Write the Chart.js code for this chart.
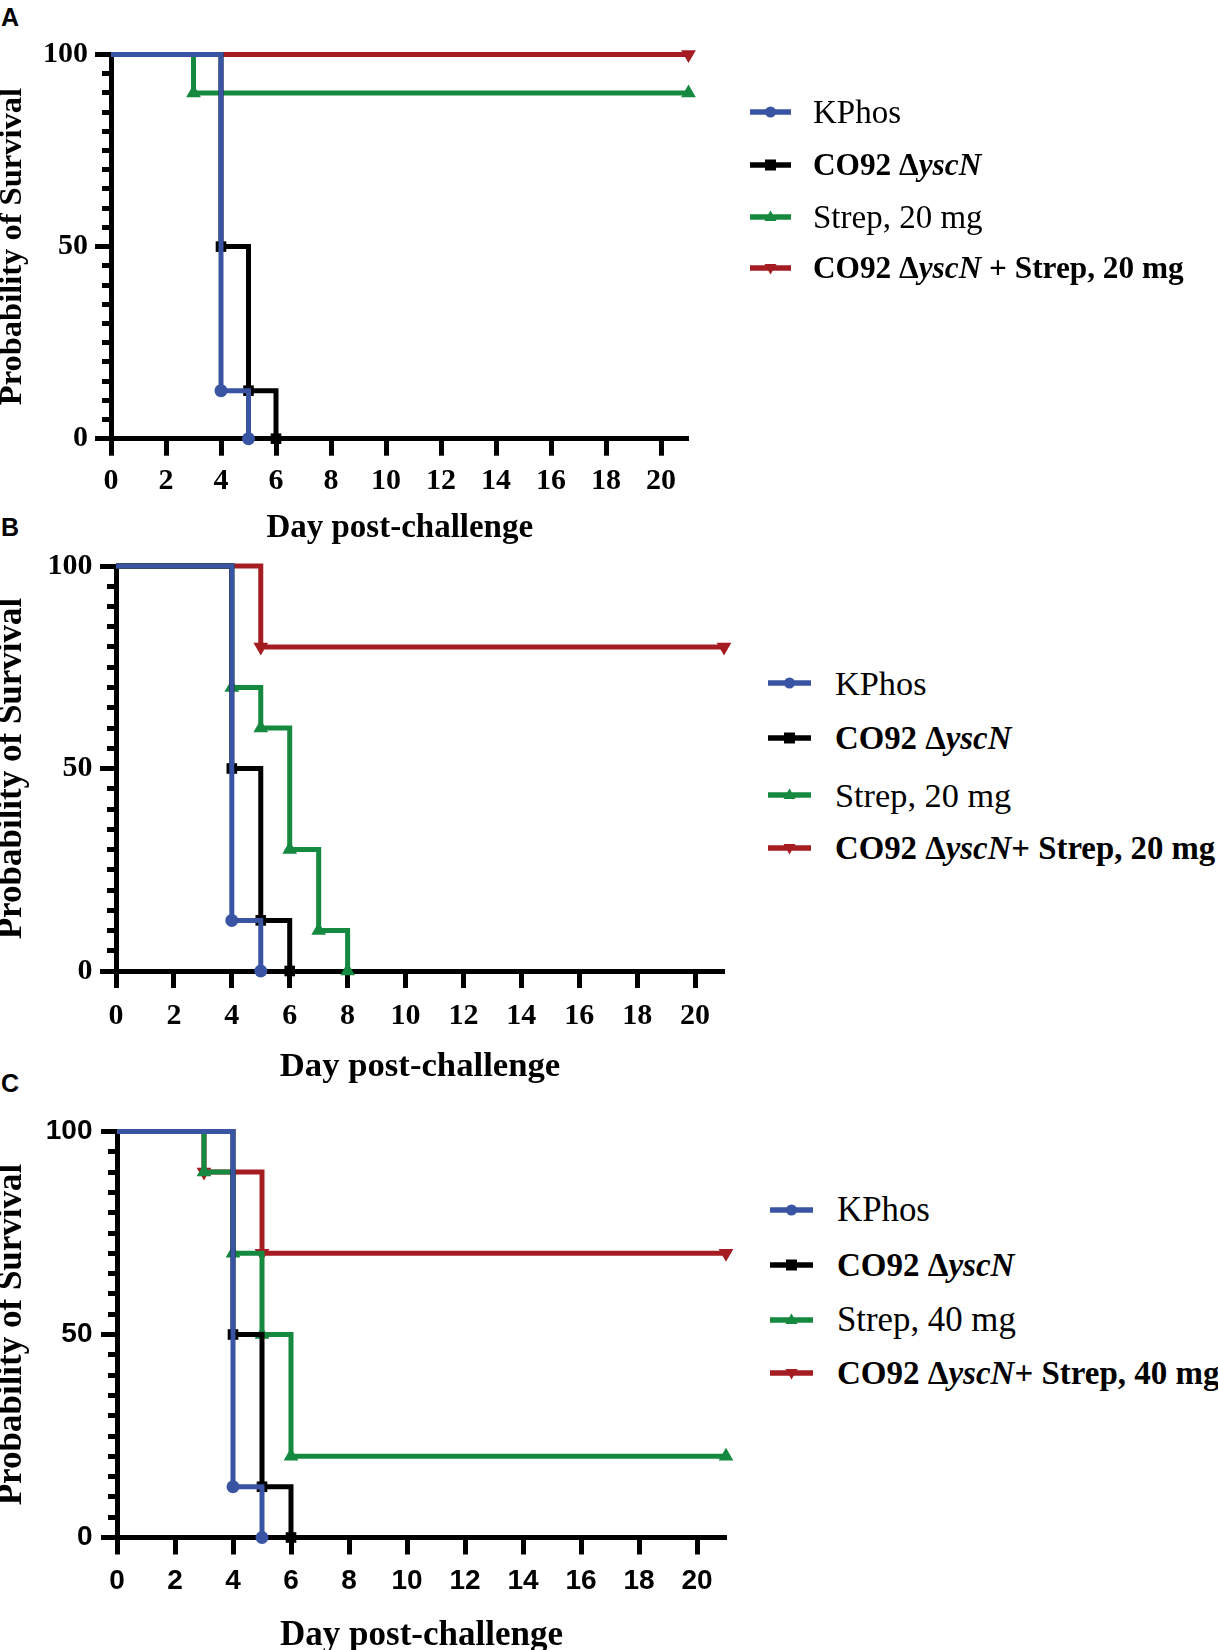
<!DOCTYPE html>
<html><head><meta charset="utf-8">
<script src="https://cdn.jsdelivr.net/npm/chart.js@4.4.1/dist/chart.umd.min.js"></script>
<style>
html,body{margin:0;padding:0;background:#fff;width:1218px;height:1650px;overflow:hidden;position:relative;}
.panel{position:absolute;left:0;width:760px;}
.letter{position:absolute;left:1px;font-family:'Liberation Sans',Arial,sans-serif;font-weight:bold;font-size:25px;line-height:25px;color:#000;}
.item{position:absolute;display:flex;align-items:center;height:40px;white-space:nowrap;font-family:'Liberation Serif','Times New Roman',serif;color:#000;}
.item svg{display:block;flex:none;}
.item span{line-height:40px;}
.b{font-weight:bold;}
</style></head><body>
<div class="letter" style="top:5px">A</div>
<div class="letter" style="top:515px">B</div>
<div class="letter" style="top:1071px">C</div>
<div class="panel" id="pA" style="top:0px;height:560px"><canvas id="cA"></canvas></div>
<div class="panel" id="pB" style="top:540px;height:560px"><canvas id="cB"></canvas></div>
<div class="panel" id="pC" style="top:1090px;height:590px"><canvas id="cC"></canvas></div>
<div id="legends"></div>
<script>
// ---------- data ----------
const seriesColors = ['#3a54a4', '#000000', '#14893f', '#a51c22'];
const seriesMarkers = ['circle', 'rect', 'triangle', 'triangle'];
const markerRotation = [0, 0, 0, 180];
const markerRadius = [6.5, 7.5, 8.5, 8.5];

const xTickValues = [0, 2, 4, 6, 8, 10, 12, 14, 16, 18, 20];
const yMajorTickValues = [0, 50, 100];
const yMinorTickValues = [0, 5, 10, 15, 20, 25, 30, 35, 40, 45, 50, 55, 60, 65, 70, 75, 80, 85, 90, 95, 100];

// Panel A
const daysA_KPhos = [0, 4, 5];            const survA_KPhos = [100, 12.5, 0];
const daysA_CO92  = [0, 4, 5, 6];         const survA_CO92  = [100, 50, 12.5, 0];
const daysA_Strep = [0, 3, 21];           const survA_Strep = [100, 90, 90];
const daysA_Combo = [0, 21];              const survA_Combo = [100, 100];
const legendA = ['KPhos', 'CO92 ΔyscN', 'Strep, 20 mg', 'CO92 ΔyscN + Strep, 20 mg'];

// Panel B
const daysB_KPhos = [0, 4, 5];            const survB_KPhos = [100, 12.5, 0];
const daysB_CO92  = [0, 4, 5, 6];         const survB_CO92  = [100, 50, 12.5, 0];
const daysB_Strep = [0, 4, 5, 6, 7, 8];   const survB_Strep = [100, 70, 60, 30, 10, 0];
const daysB_Combo = [0, 5, 21];           const survB_Combo = [100, 80, 80];
const legendB = ['KPhos', 'CO92 ΔyscN', 'Strep, 20 mg', 'CO92 ΔyscN+ Strep, 20 mg'];

// Panel C
const daysC_KPhos = [0, 4, 5];            const survC_KPhos = [100, 12.5, 0];
const daysC_CO92  = [0, 4, 5, 6];         const survC_CO92  = [100, 50, 12.5, 0];
const daysC_Strep = [0, 3, 4, 5, 6, 21];  const survC_Strep = [100, 90, 70, 50, 20, 20];
const daysC_Combo = [0, 3, 5, 21];        const survC_Combo = [100, 90, 70, 70];
const legendC = ['KPhos', 'CO92 ΔyscN', 'Strep, 40 mg', 'CO92 ΔyscN+ Strep, 40 mg'];

const xTitle = 'Day post-challenge';
const yTitle = 'Probability of Survival';

// ---------- builders ----------
function pts(days, surv) { return days.map((d, i) => ({x: d, y: surv[i]})); }

function makeDatasets(list, labels) {
  return list.map((pair, i) => ({
    label: labels[i],
    data: pts(pair[0], pair[1]),
    stepped: 'before',
    borderColor: seriesColors[i],
    backgroundColor: seriesColors[i],
    borderWidth: 5,
    borderCapStyle: 'butt',
    borderJoinStyle: 'miter',
    fill: false,
    tension: 0,
    clip: false,
    pointStyle: seriesMarkers[i],
    pointRotation: markerRotation[i],
    pointBackgroundColor: seriesColors[i],
    pointBorderColor: seriesColors[i],
    pointBorderWidth: 0,
    pointRadius: (ctx) => ctx.dataIndex === 0 ? 0 : markerRadius[i],
    pointHoverRadius: (ctx) => ctx.dataIndex === 0 ? 0 : markerRadius[i]
  }));
}

function makePanel(canvasId, g, datasets) {
  const canvasW = 760;
  const xTitleOffset = 0.6 * g.titleSize;
  const xScaleBottom = g.xTitleY + xTitleOffset;
  const xAxisHeight = xScaleBottom - g.y0;
  const padTop = g.y100 - g.top;
  const padBottom = (g.top + g.height) - xScaleBottom;
  const padRight = canvasW - g.xEnd;
  const tickFont = {family: g.tickFamily, weight: 'bold', size: g.tickSize, lineHeight: 1.2};
  const titleFont = {family: 'Liberation Serif', weight: 'bold', size: g.titleSize, lineHeight: 1.2};
  const xLabelPad = g.xLabelY - g.y0 - 17 - 0.6 * g.tickSize;
  const yLabelPad = g.x0 - 16 - g.yLabelRight;
  return new Chart(document.getElementById(canvasId), {
    type: 'line',
    data: {datasets},
    options: {
      responsive: true,
      maintainAspectRatio: false,
      animation: false,
      events: [],
      layout: {padding: {left: 0, top: padTop, right: padRight, bottom: padBottom}},
      plugins: {legend: {display: false}, tooltip: {enabled: false}, title: {display: false}},
      scales: {
        x: {
          type: 'linear', position: 'bottom', min: 0, max: 21,
          afterBuildTicks: (s) => { s.ticks = xTickValues.map(v => ({value: v})); },
          afterFit: (s) => { s.height = xAxisHeight; },
          ticks: {color: '#000', font: tickFont, padding: xLabelPad, maxRotation: 0, autoSkip: false},
          grid: {drawOnChartArea: false, drawTicks: true, tickLength: 17, tickWidth: 5, tickColor: '#000'},
          border: {display: true, color: '#000', width: 5},
          title: {display: true, text: xTitle, color: '#000', font: titleFont, padding: 0}
        },
        y: {
          type: 'linear', position: 'left', weight: 1, min: 0, max: 100,
          afterBuildTicks: (s) => { s.ticks = yMajorTickValues.map(v => ({value: v})); },
          afterFit: (s) => { s.width = g.x0; },
          ticks: {color: '#000', font: tickFont, padding: yLabelPad, autoSkip: false},
          grid: {drawOnChartArea: false, drawTicks: true, tickLength: 16, tickWidth: 5, tickColor: '#000'},
          border: {display: true, color: '#000', width: 5},
          title: {display: true, text: yTitle, color: '#000',
                  font: {family: 'Liberation Serif', weight: 'bold', size: g.yTitleSize, lineHeight: (2 * g.yTitleX) / g.yTitleSize},
                  padding: 0}
        },
        yMinor: {
          type: 'linear', position: 'left', weight: 0, min: 0, max: 100,
          afterBuildTicks: (s) => { s.ticks = yMinorTickValues.map(v => ({value: v})); },
          afterFit: (s) => { s.width = 0; },
          ticks: {display: false, autoSkip: false},
          grid: {drawOnChartArea: false, drawTicks: true, tickLength: 9, tickWidth: 5, tickColor: '#000'},
          border: {display: false}
        }
      }
    }
  });
}

function makeLegend(labels, L) {
  const host = document.getElementById('legends');
  labels.forEach((lab, i) => {
    const div = document.createElement('div');
    div.className = 'item';
    div.style.left = L.lineX0 + 'px';
    div.style.top = (L.rows[i] - 20) + 'px';
    const isBold = lab.startsWith('CO92');
    div.style.fontSize = (isBold ? L.boldSize : L.regSize) + 'px';
    const w = L.lineX1 - L.lineX0;
    const cx = w / 2, cy = 10, c = seriesColors[i];
    let mk = '';
    if (seriesMarkers[i] === 'circle') mk = `<circle cx="${cx}" cy="${cy}" r="5.5" fill="${c}"/>`;
    else if (seriesMarkers[i] === 'rect') mk = `<rect x="${cx - 5.5}" y="${cy - 5.5}" width="11" height="11" fill="${c}"/>`;
    else if (markerRotation[i] === 0) mk = `<polygon points="${cx},${cy - 6.5} ${cx + 6},${cy + 4} ${cx - 6},${cy + 4}" fill="${c}"/>`;
    else mk = `<polygon points="${cx},${cy + 6.5} ${cx + 6},${cy - 4} ${cx - 6},${cy - 4}" fill="${c}"/>`;
    const svg = `<svg width="${w}" height="20" viewBox="0 0 ${w} 20" style="margin-right:${L.textX - L.lineX1}px"><line x1="0" y1="10" x2="${w}" y2="10" stroke="${c}" stroke-width="5.5"/>${mk}</svg>`;
    const html = lab.replace('yscN', '<i>yscN</i>');
    div.innerHTML = svg + `<span${isBold ? ' class="b"' : ''}>${html}</span>`;
    host.appendChild(div);
  });
}

Chart.defaults.font.family = "'Liberation Serif', 'Times New Roman', serif";

makePanel('cA', {top: 0, height: 560, x0: 111, xEnd: 688.5, y100: 54.5, y0: 438.7,
  xTitleY: 528, yTitleX: 13, xLabelY: 481, yLabelRight: 88,
  tickFamily: 'Liberation Serif', tickSize: 30, titleSize: 33, yTitleSize: 32.5},
  makeDatasets([[daysA_KPhos, survA_KPhos], [daysA_CO92, survA_CO92], [daysA_Strep, survA_Strep], [daysA_Combo, survA_Combo]], legendA));

makePanel('cB', {top: 540, height: 560, x0: 116, xEnd: 724, y100: 566, y0: 971,
  xTitleY: 1067, yTitleX: 12, xLabelY: 1016, yLabelRight: 92.5,
  tickFamily: 'Liberation Serif', tickSize: 30, titleSize: 34.7, yTitleSize: 35},
  makeDatasets([[daysB_KPhos, survB_KPhos], [daysB_CO92, survB_CO92], [daysB_Strep, survB_Strep], [daysB_Combo, survB_Combo]], legendB));

makePanel('cC', {top: 1090, height: 590, x0: 117, xEnd: 726, y100: 1131.5, y0: 1537.5,
  xTitleY: 1636, yTitleX: 12, xLabelY: 1581, yLabelRight: 92.5,
  tickFamily: 'Liberation Sans', tickSize: 28, titleSize: 35, yTitleSize: 35},
  makeDatasets([[daysC_KPhos, survC_KPhos], [daysC_CO92, survC_CO92], [daysC_Strep, survC_Strep], [daysC_Combo, survC_Combo]], legendC));

makeLegend(legendA, {lineX0: 750, lineX1: 791, textX: 813, rows: [112, 165, 217, 268], regSize: 33, boldSize: 31.3});
makeLegend(legendB, {lineX0: 768, lineX1: 811, textX: 835, rows: [683, 738, 795, 848], regSize: 34.3, boldSize: 32.8});
makeLegend(legendC, {lineX0: 770, lineX1: 813, textX: 837, rows: [1210, 1265, 1320, 1373], regSize: 34.8, boldSize: 33});
</script>
</body></html>
